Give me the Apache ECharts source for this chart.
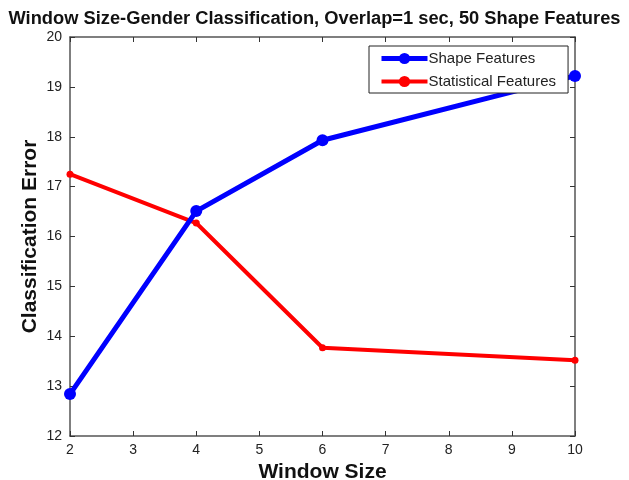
<!DOCTYPE html>
<html><head><meta charset="utf-8">
<script src="https://cdn.jsdelivr.net/npm/echarts@6/dist/echarts.min.js"></script>
<style>html,body{margin:0;padding:0;background:#fff}#c{width:629px;height:480px}</style>
</head><body><div id="c"></div>
<script>
const windowSizes = [2, 4, 6, 10];
const shapeFeatures = [12.84, 16.51, 17.93, 19.22];
const statisticalFeatures = [17.25, 16.27, 13.77, 13.52];
const xTicks = {min: 2, max: 10, interval: 1};
const yTicks = {min: 12, max: 20, interval: 1};

const chart = echarts.init(document.getElementById('c'));
const axisCol = '#555';
const F = 'Liberation Sans, Arial, sans-serif';
const baseAxis = {
  axisLine: {show: true, lineStyle: {color: axisCol, width: 1.5}},
  axisTick: {show: true, inside: true, length: 5, lineStyle: {color: '#333'}},
  splitLine: {show: false}
};
chart.setOption({
  animation: false,
  title: {text: 'Window Size-Gender Classification, Overlap=1 sec, 50 Shape Features',
    left: 'center', top: 5,
    textStyle: {fontFamily: F, fontSize: 18.3, fontWeight: 'bold', color: '#111'}},
  grid: {left: 70, right: 54, top: 37, bottom: 44, containLabel: false, outerBoundsMode: 'none'},
  legend: {
    left: 369, top: 46, orient: 'vertical', itemGap: 6,
    padding: [4, 12, 3, 10],
    borderColor: '#222', borderWidth: 1, backgroundColor: '#fff',
    itemWidth: 46, itemHeight: 14,
    textStyle: {fontFamily: F, fontSize: 15, lineHeight: 17, color: '#222', padding: [0,0,0,-4]},
    data: [
      {name: 'Shape Features', lineStyle: {width: 5, color: '#0000ff'}},
      {name: 'Statistical Features', lineStyle: {width: 4, color: '#ff0000'}}
    ]
  },
  xAxis: [
    Object.assign({type: 'value', min: xTicks.min, max: xTicks.max, interval: xTicks.interval,
      name: 'Window Size', nameLocation: 'middle', nameGap: 26,
      nameTextStyle: {fontFamily: F, fontSize: 21, fontWeight: 'bold', color: '#111'},
      axisLabel: {fontFamily: F, fontSize: 14, color: '#222', margin: 7}}, baseAxis),
    Object.assign({type: 'value', position: 'top', min: xTicks.min, max: xTicks.max, interval: xTicks.interval,
      axisLabel: {show: false}}, baseAxis)
  ],
  yAxis: [
    Object.assign({type: 'value', min: yTicks.min, max: yTicks.max, interval: yTicks.interval,
      name: 'Classification Error', nameLocation: 'middle', nameGap: 29, nameMoveOverlap: false,
      nameTextStyle: {fontFamily: F, fontSize: 21, fontWeight: 'bold', color: '#111'},
      axisLabel: {fontFamily: F, fontSize: 14, color: '#222', margin: 8}}, baseAxis),
    Object.assign({type: 'value', position: 'right', min: yTicks.min, max: yTicks.max, interval: yTicks.interval,
      axisLabel: {show: false}}, baseAxis)
  ],
  series: [
    {name: 'Shape Features', type: 'line', data: windowSizes.map((x, i) => [x, shapeFeatures[i]]),
      lineStyle: {color: '#0000ff', width: 5}, itemStyle: {color: '#0000ff'},
      symbol: 'circle', symbolSize: 12, showAllSymbol: true, z: 3},
    {name: 'Statistical Features', type: 'line', data: windowSizes.map((x, i) => [x, statisticalFeatures[i]]),
      lineStyle: {color: '#ff0000', width: 4}, itemStyle: {color: '#ff0000'},
      symbol: 'circle', symbolSize: 7, showAllSymbol: true, z: 2}
  ]
});
</script></body></html>
